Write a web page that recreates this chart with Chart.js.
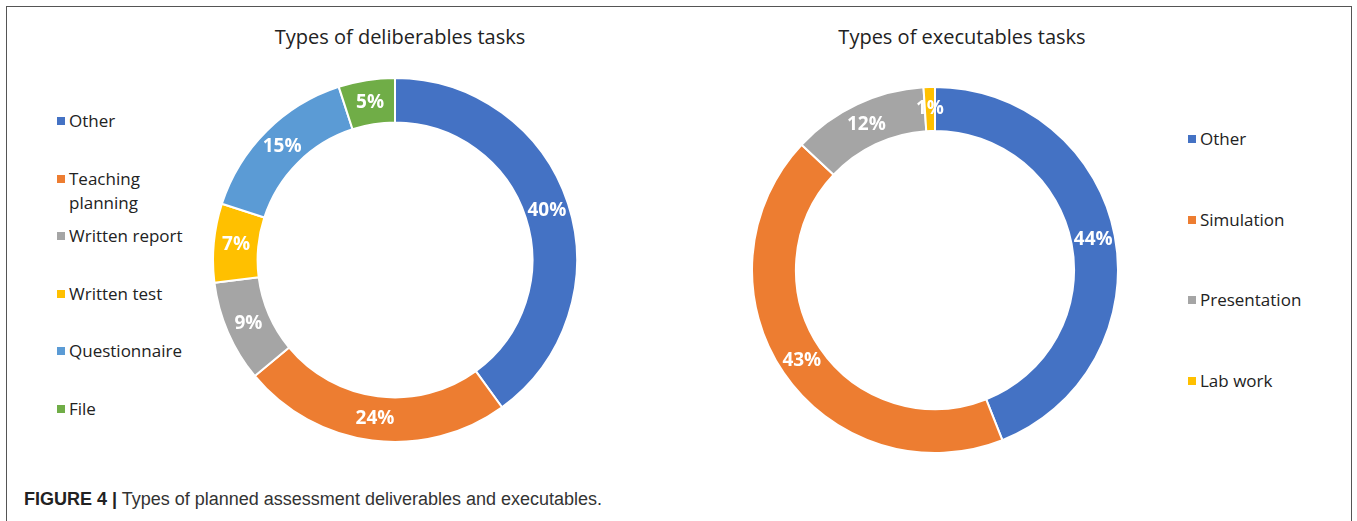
<!DOCTYPE html>
<html>
<head>
<meta charset="utf-8">
<script src="https://cdn.jsdelivr.net/npm/chart.js@4.4.0/dist/chart.umd.min.js"></script>
<style>
  html, body { margin: 0; padding: 0; background: #fff; }
  body { width: 1357px; height: 521px; position: relative; overflow: hidden; font-family: 'Open Sans', sans-serif; }
  .frame { position: absolute; left: 6px; top: 6px; width: 1346px; height: 540px; border: 1.5px solid #555; box-sizing: border-box; }
  .title { position: absolute; font-size: 20px; color: #222; white-space: nowrap; transform: translate(-50%, -50%); }
  .chart-box { position: absolute; }
  .legend { position: absolute; font-size: 17px; color: #222; }
  .legend-item { position: absolute; left: 0; white-space: nowrap; line-height: 24px; }
  .legend-item .sw { position: absolute; left: 0; top: 8px; width: 8px; height: 8px; }
  .legend-item .tx { position: absolute; left: 12px; top: 0; }
  .caption { position: absolute; left: 24px; top: 489px; font-family: 'Liberation Sans Narrow', 'Arial Narrow', sans-serif; font-size: 18px; color: #333; white-space: nowrap; }
  .caption b { color: #222; }
</style>
</head>
<body>
<div class="frame"></div>

<div class="title" style="left:400px; top:36px;">Types of deliberables tasks</div>
<div class="title" style="left:962px; top:36px;">Types of executables tasks</div>

<div class="chart-box" style="left:212px; top:77px; width:366px; height:366px;"><canvas id="chart-deliv"></canvas></div>
<div class="chart-box" style="left:751px; top:86px; width:368px; height:368px;"><canvas id="chart-exec"></canvas></div>

<div class="legend" id="legend-deliv" style="left:57px; top:109px;"></div>
<div class="legend" id="legend-exec" style="left:1188px; top:127px;"></div>

<div class="caption"><b>FIGURE 4 |</b> Types of planned assessment deliverables and executables.</div>

<script>
// data
const delivLabels = ['Other', ['Teaching', 'planning'], 'Written report', 'Written test', 'Questionnaire', 'File'];
const delivValues = [40, 24, 9, 7, 15, 5];
const delivColors = ['#4472C4', '#ED7D31', '#A5A5A5', '#FFC000', '#5B9BD5', '#70AD47'];

const execLabels = ['Other', 'Simulation', 'Presentation', 'Lab work'];
const execValues = [44, 43, 12, 1];
const execColors = ['#4472C4', '#ED7D31', '#A5A5A5', '#FFC000'];

// white percent labels in the middle of each ring slice
const sliceLabels = {
  id: 'sliceLabels',
  afterDatasetsDraw(chart) {
    const ctx = chart.ctx;
    const ds = chart.data.datasets[0];
    const meta = chart.getDatasetMeta(0);
    ctx.save();
    ctx.fillStyle = '#fff';
    ctx.font = 'bold 19px "Open Sans", sans-serif';
    ctx.textAlign = 'center';
    ctx.textBaseline = 'middle';
    meta.data.forEach((arc, i) => {
      const p = arc.getCenterPoint();
      ctx.fillText(ds.data[i] + '%', p.x, p.y);
    });
    ctx.restore();
  }
};

function makeDonut(id, labels, values, colors, cutout) {
  return new Chart(document.getElementById(id), {
    type: 'doughnut',
    data: {
      labels: labels,
      datasets: [{
        data: values,
        backgroundColor: colors,
        borderColor: '#fff',
        borderWidth: 2
      }]
    },
    options: {
      responsive: true,
      maintainAspectRatio: false,
      animation: false,
      events: [],
      cutout: cutout,
      layout: { padding: 0 },
      plugins: { legend: { display: false }, tooltip: { enabled: false } }
    },
    plugins: [sliceLabels]
  });
}

function makeLegend(el, labels, colors, step) {
  const box = document.getElementById(el);
  labels.forEach((lab, i) => {
    const item = document.createElement('div');
    item.className = 'legend-item';
    item.style.top = (i * step) + 'px';
    const lines = Array.isArray(lab) ? lab : [lab];
    item.innerHTML = `<span class="sw" style="background:${colors[i]}"></span><span class="tx">${lines.join('<br>')}</span>`;
    box.appendChild(item);
  });
}

makeDonut('chart-deliv', delivLabels, delivValues, delivColors, '75.5%');
makeDonut('chart-exec', execLabels, execValues, execColors, '76%');
makeLegend('legend-deliv', delivLabels, delivColors, 57.6);
makeLegend('legend-exec', execLabels, execColors, 80.7);
</script>
</body>
</html>
